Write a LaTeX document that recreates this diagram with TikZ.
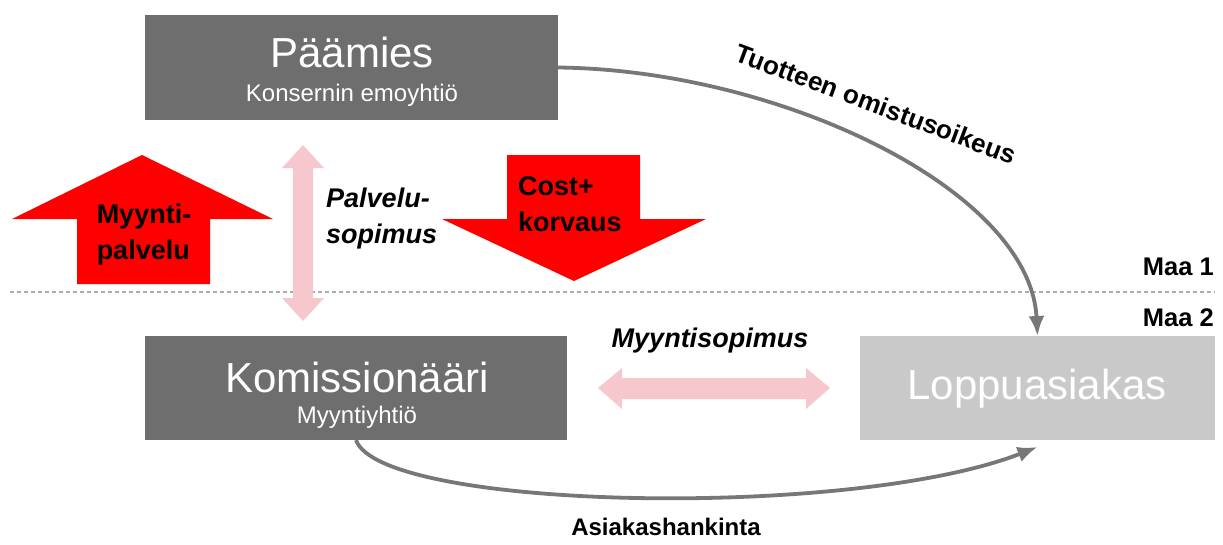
\documentclass[tikz,border=0pt]{standalone}
\usepackage{fontspec}
\setmainfont{Liberation Sans}
\usetikzlibrary{arrows.meta,calc}
\definecolor{boxdark}{HTML}{6E6E6E}
\definecolor{boxlight}{HTML}{C9C9C9}
\definecolor{pinkarr}{HTML}{F6C8CD}
\definecolor{flowgray}{HTML}{777777}
\definecolor{redarr}{HTML}{FF0000}
\definecolor{dashgray}{HTML}{ADADAD}
\tikzset{
  boxnode/.style={inner sep=0pt, outer sep=0pt},
  titletext/.style={text=white, font=\fontsize{42}{46}\selectfont, inner sep=0pt},
  subtext/.style={text=white, font=\fontsize{24}{26}\selectfont, inner sep=0pt},
  boldlabel/.style={font=\bfseries\fontsize{27}{36}\selectfont, inner sep=0pt, align=left},
  italabel/.style={font=\bfseries\itshape\fontsize{27}{36}\selectfont, inner sep=0pt, align=left},
  maalabel/.style={font=\bfseries\fontsize{25.5}{28}\selectfont, inner sep=0pt, anchor=east},
  flow/.style={draw=flowgray, line width=3.8pt, -{Latex[length=20pt,width=16pt]}},
}
\begin{document}
\begin{tikzpicture}[x=1pt,y=-1pt]
\useasboundingbox (0,0) rectangle (1223,544);
% dashed border line
\coordinate (dl) at (10,292);
\coordinate (dr) at (1215,292);
\draw[dashgray, line width=1.1pt, dash pattern=on 4pt off 3pt] (dl) -- (dr);
\node[maalabel] (maa1) at (1214,267) {Maa 1};
\node[maalabel] (maa2) at (1214,318) {Maa 2};
% boxes
\node[boxnode, fill=boxdark, minimum width=413pt, minimum height=105pt] (pa) at (351.5,67.5) {};
\node[titletext] (patitle) at (352,52) {Päämies};
\node[subtext] (pasub) at (352,95) {Konsernin emoyhtiö};
\node[boxnode, fill=boxdark, minimum width=422pt, minimum height=104pt] (ko) at (356,388) {};
\node[titletext] (kotitle) at (357,377) {Komissionääri};
\node[subtext] (kosub) at (357,417) {Myyntiyhtiö};
\node[boxnode, fill=boxlight, minimum width=355pt, minimum height=104pt] (lo) at (1037.5,388) {};
\node[titletext, text=white] (lotitle) at (1037,389) {Loppuasiakas};
% red up arrow
\fill[redarr] (142,155) -- (273,219) -- (210,219) -- (210,284) -- (77,284) -- (77,219) -- (12,219) -- cycle;
\node[boldlabel] (myp) at (144,235) {Myynti-\\palvelu};
% red down arrow
\fill[redarr] (507,155) -- (640,155) -- (640,219) -- (706,219) -- (574,281) -- (442,219) -- (507,219) -- cycle;
\node[boldlabel, anchor=west] (cost) at (518,204) {Cost+\\korvaus};
% pink vertical double arrow
\fill[pinkarr] (303,145) -- (324,168) -- (313,168) -- (313,298) -- (324,298) -- (303,321) -- (282,298) -- (293,298) -- (293,168) -- (282,168) -- cycle;
\node[italabel, anchor=west] (palv) at (326,219) {Palvelu-\\sopimus};
% pink horizontal double arrow
\fill[pinkarr] (598,388) -- (622,368) -- (622,378) -- (806,378) -- (806,368) -- (830,388) -- (806,409) -- (806,399) -- (622,399) -- (622,409) -- cycle;
\node[italabel] (mys) at (710,341) {Myyntisopimus};
% flows
\coordinate (loin) at ($(lo.south)+(0,7)$);
\draw[flow] (pa.east) .. controls (780,70) and (1030,190) .. (lo.north);
\draw[flow] (ko.south) .. controls (380,510) and (850,520) .. (loin);
\node[boldlabel, font=\bfseries\fontsize{26}{28}\selectfont, rotate=-20.5] (tuo) at (876,104) {Tuotteen omistusoikeus};
\node[boldlabel, font=\bfseries\fontsize{24}{28}\selectfont] (asi) at (666,527) {Asiakashankinta};
\end{tikzpicture}
\end{document}
